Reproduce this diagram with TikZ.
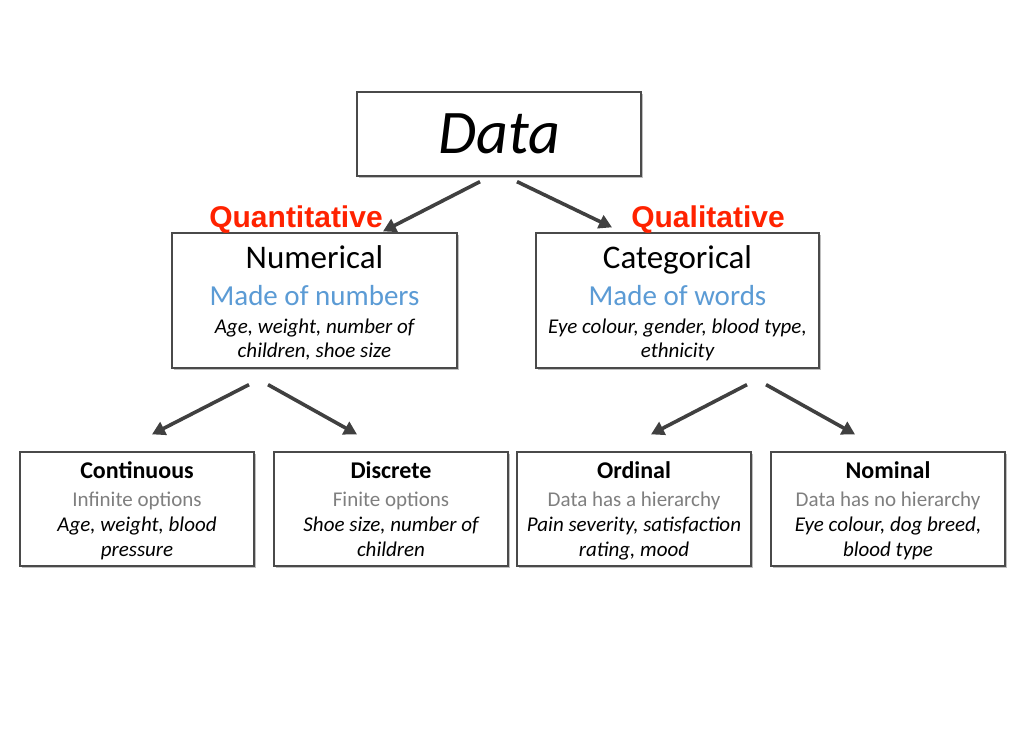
\documentclass[tikz,border=0pt]{standalone}
\usepackage{fontspec}
\setmainfont{Carlito}
\newfontfamily\arialfont{Liberation Sans}
\usetikzlibrary{arrows.meta,shadows}
\definecolor{boxline}{HTML}{4A4A4A}
\definecolor{arrowgray}{HTML}{404040}
\definecolor{subblue}{HTML}{5B9BD5}
\definecolor{subgray}{HTML}{7F7F7F}
\definecolor{qred}{HTML}{FF2200}
\tikzset{
  box/.style={draw=boxline, line width=1.3pt, fill=white, inner sep=0pt,
    drop shadow={shadow xshift=2pt, shadow yshift=-2pt, fill=black, opacity=0.25}},
  midbox/.style={box, minimum width=285pt, minimum height=135pt},
  lowbox/.style={box, minimum width=234pt, minimum height=114pt},
  txt/.style={anchor=base, inner sep=0pt},
  title/.style={txt, font=\fontsize{33}{38}\selectfont},
  sub/.style={txt, font=\fontsize{29}{33}\selectfont, text=subblue},
  ex/.style={txt, font=\itshape\fontsize{21}{25}\selectfont},
  ltitle/.style={txt, font=\bfseries\fontsize{24}{28}\selectfont},
  lsub/.style={txt, font=\fontsize{21}{25}\selectfont, text=subgray},
  lex/.style={txt, font=\itshape\fontsize{21}{25}\selectfont},
  qlabel/.style={txt, font=\arialfont\bfseries\fontsize{30}{34}\selectfont, text=qred},
  conn/.style={draw=arrowgray, line width=3.6pt, -{Triangle[length=13pt,width=14pt]}}
}
\begin{document}
\begin{tikzpicture}[x=1pt,y=-1pt]
\useasboundingbox (0,0) rectangle (1024,755);
% top box
\node[box, minimum width=284pt, minimum height=84pt] (data) at (499,134) {};
\node[txt, font=\itshape\fontsize{62}{68}\selectfont] (datat) at (499,153) {Data};
% middle boxes
\node[midbox] (num) at (314.5,300.5) {};
\node[title] (num1) at (314.5,268) {Numerical};
\node[sub] (num2) at (314.5,305) {Made of numbers};
\node[ex] (num3) at (314.5,333) {Age, weight, number of};
\node[ex] (num4) at (314.5,357) {children, shoe size};
\node[midbox, minimum width=283pt] (cat) at (677.5,300.5) {};
\node[title] (cat1) at (677.5,268) {Categorical};
\node[sub] (cat2) at (677.5,305) {Made of words};
\node[ex] (cat3) at (677.5,333) {Eye colour, gender, blood type,};
\node[ex] (cat4) at (677.5,357) {ethnicity};
% labels
\node[qlabel] (quant) at (296,227) {Quantitative};
\node[qlabel] (qual) at (708,227) {Qualitative};
% bottom boxes
\node[lowbox] (cont) at (137,509) {};
\node[ltitle] (cont1) at (137,478) {Continuous};
\node[lsub] (cont2) at (137,506) {Infinite options};
\node[lex] (cont3) at (137,531) {Age, weight, blood};
\node[lex] (cont4) at (137,556) {pressure};
\node[lowbox] (disc) at (391,509) {};
\node[ltitle] (disc1) at (391,478) {Discrete};
\node[lsub] (disc2) at (391,506) {Finite options};
\node[lex] (disc3) at (391,531) {Shoe size, number of};
\node[lex] (disc4) at (391,556) {children};
\node[lowbox] (ord) at (634,509) {};
\node[ltitle] (ord1) at (634,478) {Ordinal};
\node[lsub] (ord2) at (634,506) {Data has a hierarchy};
\node[lex] (ord3) at (634,531) {Pain severity, satisfaction};
\node[lex] (ord4) at (634,556) {rating, mood};
\node[lowbox] (nom) at (888,509) {};
\node[ltitle] (nom1) at (888,478) {Nominal};
\node[lsub] (nom2) at (888,506) {Data has no hierarchy};
\node[lex] (nom3) at (888,531) {Eye colour, dog breed,};
\node[lex] (nom4) at (888,556) {blood type};
% connectors
\draw[conn] ([xshift=-19pt,yshift=-5pt]data.south) -- ([xshift=68.5pt,yshift=1pt]num.north);
\draw[conn] ([xshift=18pt,yshift=-5pt]data.south) -- ([xshift=-65.5pt,yshift=5pt]cat.north);
\draw[conn] ([xshift=-65.5pt,yshift=-16pt]num.south) -- ([xshift=15pt,yshift=17pt]cont.north);
\draw[conn] ([xshift=-46.5pt,yshift=-16pt]num.south) -- ([xshift=-34pt,yshift=17pt]disc.north);
\draw[conn] ([xshift=69.5pt,yshift=-16pt]cat.south) -- ([xshift=17pt,yshift=17pt]ord.north);
\draw[conn] ([xshift=88.5pt,yshift=-16pt]cat.south) -- ([xshift=-33pt,yshift=17pt]nom.north);
\end{tikzpicture}
\end{document}
